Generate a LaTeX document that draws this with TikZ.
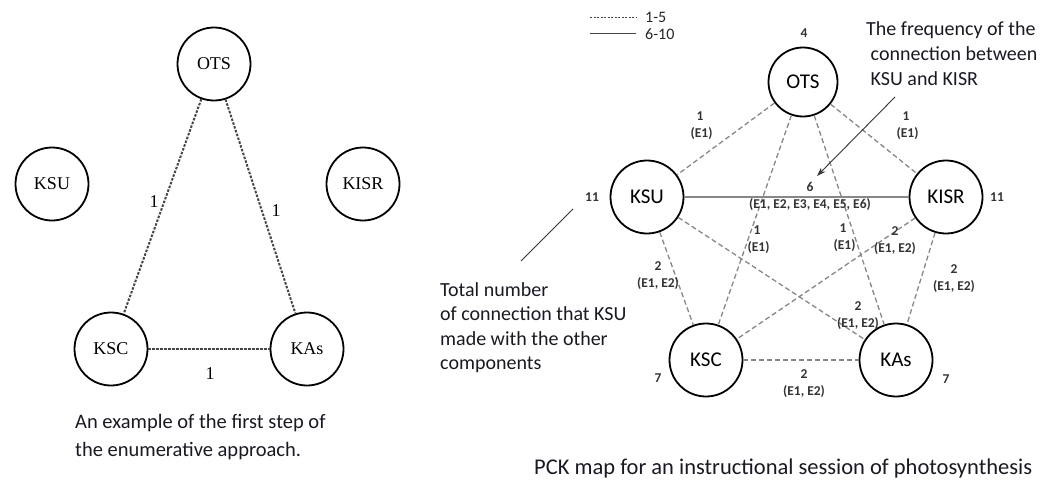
\documentclass[tikz,border=0pt]{standalone}
\usepackage{fontspec}
\setmainfont{Carlito}
\newfontfamily\serifnode{Liberation Serif}
\usetikzlibrary{arrows.meta}
\definecolor{txt}{RGB}{25,25,35}
\definecolor{edgegray}{RGB}{135,135,135}
\definecolor{dotgray}{RGB}{70,70,70}
\begin{document}
\begin{tikzpicture}[x=1pt,y=-1pt,
  lnode/.style={circle,draw=black,line width=1.8pt,minimum size=73pt,inner sep=0pt,font=\serifnode\fontsize{18}{21}\selectfont},
  rnode/.style={circle,draw=black,line width=1.8pt,minimum size=73pt,inner sep=0pt,font=\fontsize{21}{25}\selectfont},
  ldash/.style={draw=dotgray,line width=2pt,dash pattern=on 2.5pt off 1.5pt},
  rdash/.style={draw=edgegray,line width=1.3pt,dash pattern=on 5pt off 3pt},
  rsolid/.style={draw=edgegray,line width=2pt},
  llab/.style={font=\serifnode\fontsize{18}{21}\selectfont,inner sep=0pt},
  elab/.style={font=\bfseries\fontsize{13.5}{17}\selectfont,align=center,inner sep=0pt,text=black!80},
  num/.style={font=\bfseries\fontsize{13.5}{17}\selectfont,inner sep=0pt,text=black!80},
  note/.style={font=\fontsize{20}{24.5}\selectfont,align=left,text=txt,inner sep=0pt,anchor=north west},
]
\useasboundingbox (0,0) rectangle (1051,479);

% ---------- left diagram ----------
\node[lnode] (lOTS) at (214,64) {OTS};
\node[lnode] (lKSU) at (52,184) {KSU};
\node[lnode] (lKISR) at (363,184) {KISR};
\node[lnode] (lKSC) at (111,349) {KSC};
\node[lnode] (lKAs) at (307,349) {KAs};
\draw[ldash] (lOTS) -- (lKSC);
\draw[ldash] (lOTS) -- (lKAs);
\draw[ldash] (lKSC) -- (lKAs);
\node[llab] (l1) at (154,202) {1};
\node[llab] (l2) at (276,211) {1};
\node[llab] (l3) at (210,374) {1};
\node[note,font=\fontsize{20.5}{28}\selectfont] (lcap) at (75,414) {An example of the first step of\\the enumerative approach.};

% ---------- legend ----------
\coordinate (lg1a) at (590,17);
\coordinate (lg1b) at (636,17);
\coordinate (lg2a) at (590,33);
\coordinate (lg2b) at (636,33);
\draw[draw=dotgray,line width=1pt,dash pattern=on 2pt off 1.5pt] (lg1a) -- (lg1b);
\draw[draw=dotgray,line width=1pt] (lg2a) -- (lg2b);
\node[font=\fontsize{16}{18}\selectfont,anchor=west,inner sep=0pt,text=black!85] (lgt1) at (645,17) {1-5};
\node[font=\fontsize{16}{18}\selectfont,anchor=west,inner sep=0pt,text=black!85] (lgt2) at (645,34) {6-10};

% ---------- right diagram ----------
\node[rnode,minimum size=69pt] (OTS) at (803,82) {OTS};
\node[rnode] (KSU) at (647,197) {KSU};
\node[rnode] (KISR) at (946,197) {KISR};
\node[rnode] (KSC) at (706,360) {KSC};
\node[rnode] (KAs) at (896,360) {KAs};

\draw[rdash] (OTS) -- (KSU);
\draw[rdash] (OTS) -- (KISR);
\draw[rdash] (OTS) -- (KSC);
\draw[rdash] (OTS) -- (KAs);
\draw[rsolid] (KSU) -- (KISR);
\draw[rdash] (KSU) -- (KSC);
\draw[rdash] (KSU) -- (KAs);
\draw[rdash] (KISR) -- (KSC);
\draw[rdash] (KISR) -- (KAs);
\draw[rdash] (KSC) -- (KAs);

\node[num] (nOTS) at (804,33) {4};
\node[num] (nKSU) at (592,197) {11};
\node[num] (nKISR) at (997,197) {11};
\node[num] (nKSC) at (658,378) {7};
\node[num] (nKAs) at (946,379) {7};

\node[elab] (e1) at (700,126) {1\\\ (E1)};
\node[elab] (e2) at (906,126) {1\\\ (E1)};
\node[elab] (e3) at (810,196) {6\\(E1, E2, E3, E4, E5, E6)};
\node[elab] (e4) at (757,240) {1\\\ (E1)};
\node[elab] (e5) at (843,238) {1\\\ (E1)};
\node[elab] (e6) at (895,241) {2\\(E1, E2)};
\node[elab] (e7) at (658,276) {2\\(E1, E2)};
\node[elab] (e8) at (954,279) {2\\(E1, E2)};
\node[elab] (e9) at (858,316) {2\\(E1, E2)};
\node[elab] (e10) at (804,384) {2\\(E1, E2)};

% annotations
\node[note,font=\fontsize{20}{25}\selectfont] (ann1) at (866,21) {The frequency of the\\\ connection between\\\ KSU and KISR};
\coordinate (a1s) at (895,97);
\coordinate (a1e) at (817,176);
\draw[draw=black!80,line width=0.9pt,-{Stealth[length=9pt,width=6pt]}] (a1s) -- (a1e);

\coordinate (a2s) at (573,209);
\coordinate (a2e) at (521,261);
\draw[draw=black!80,line width=0.9pt] (a2s) -- (a2e);
\node[note] (ann2) at (440,282) {Total number\\of connection that KSU\\made with the other\\components};

\node[note,font=\fontsize{22.5}{26}\selectfont,anchor=west] (rcap) at (534,468) {PCK map for an instructional session of photosynthesis};
\end{tikzpicture}
\end{document}
